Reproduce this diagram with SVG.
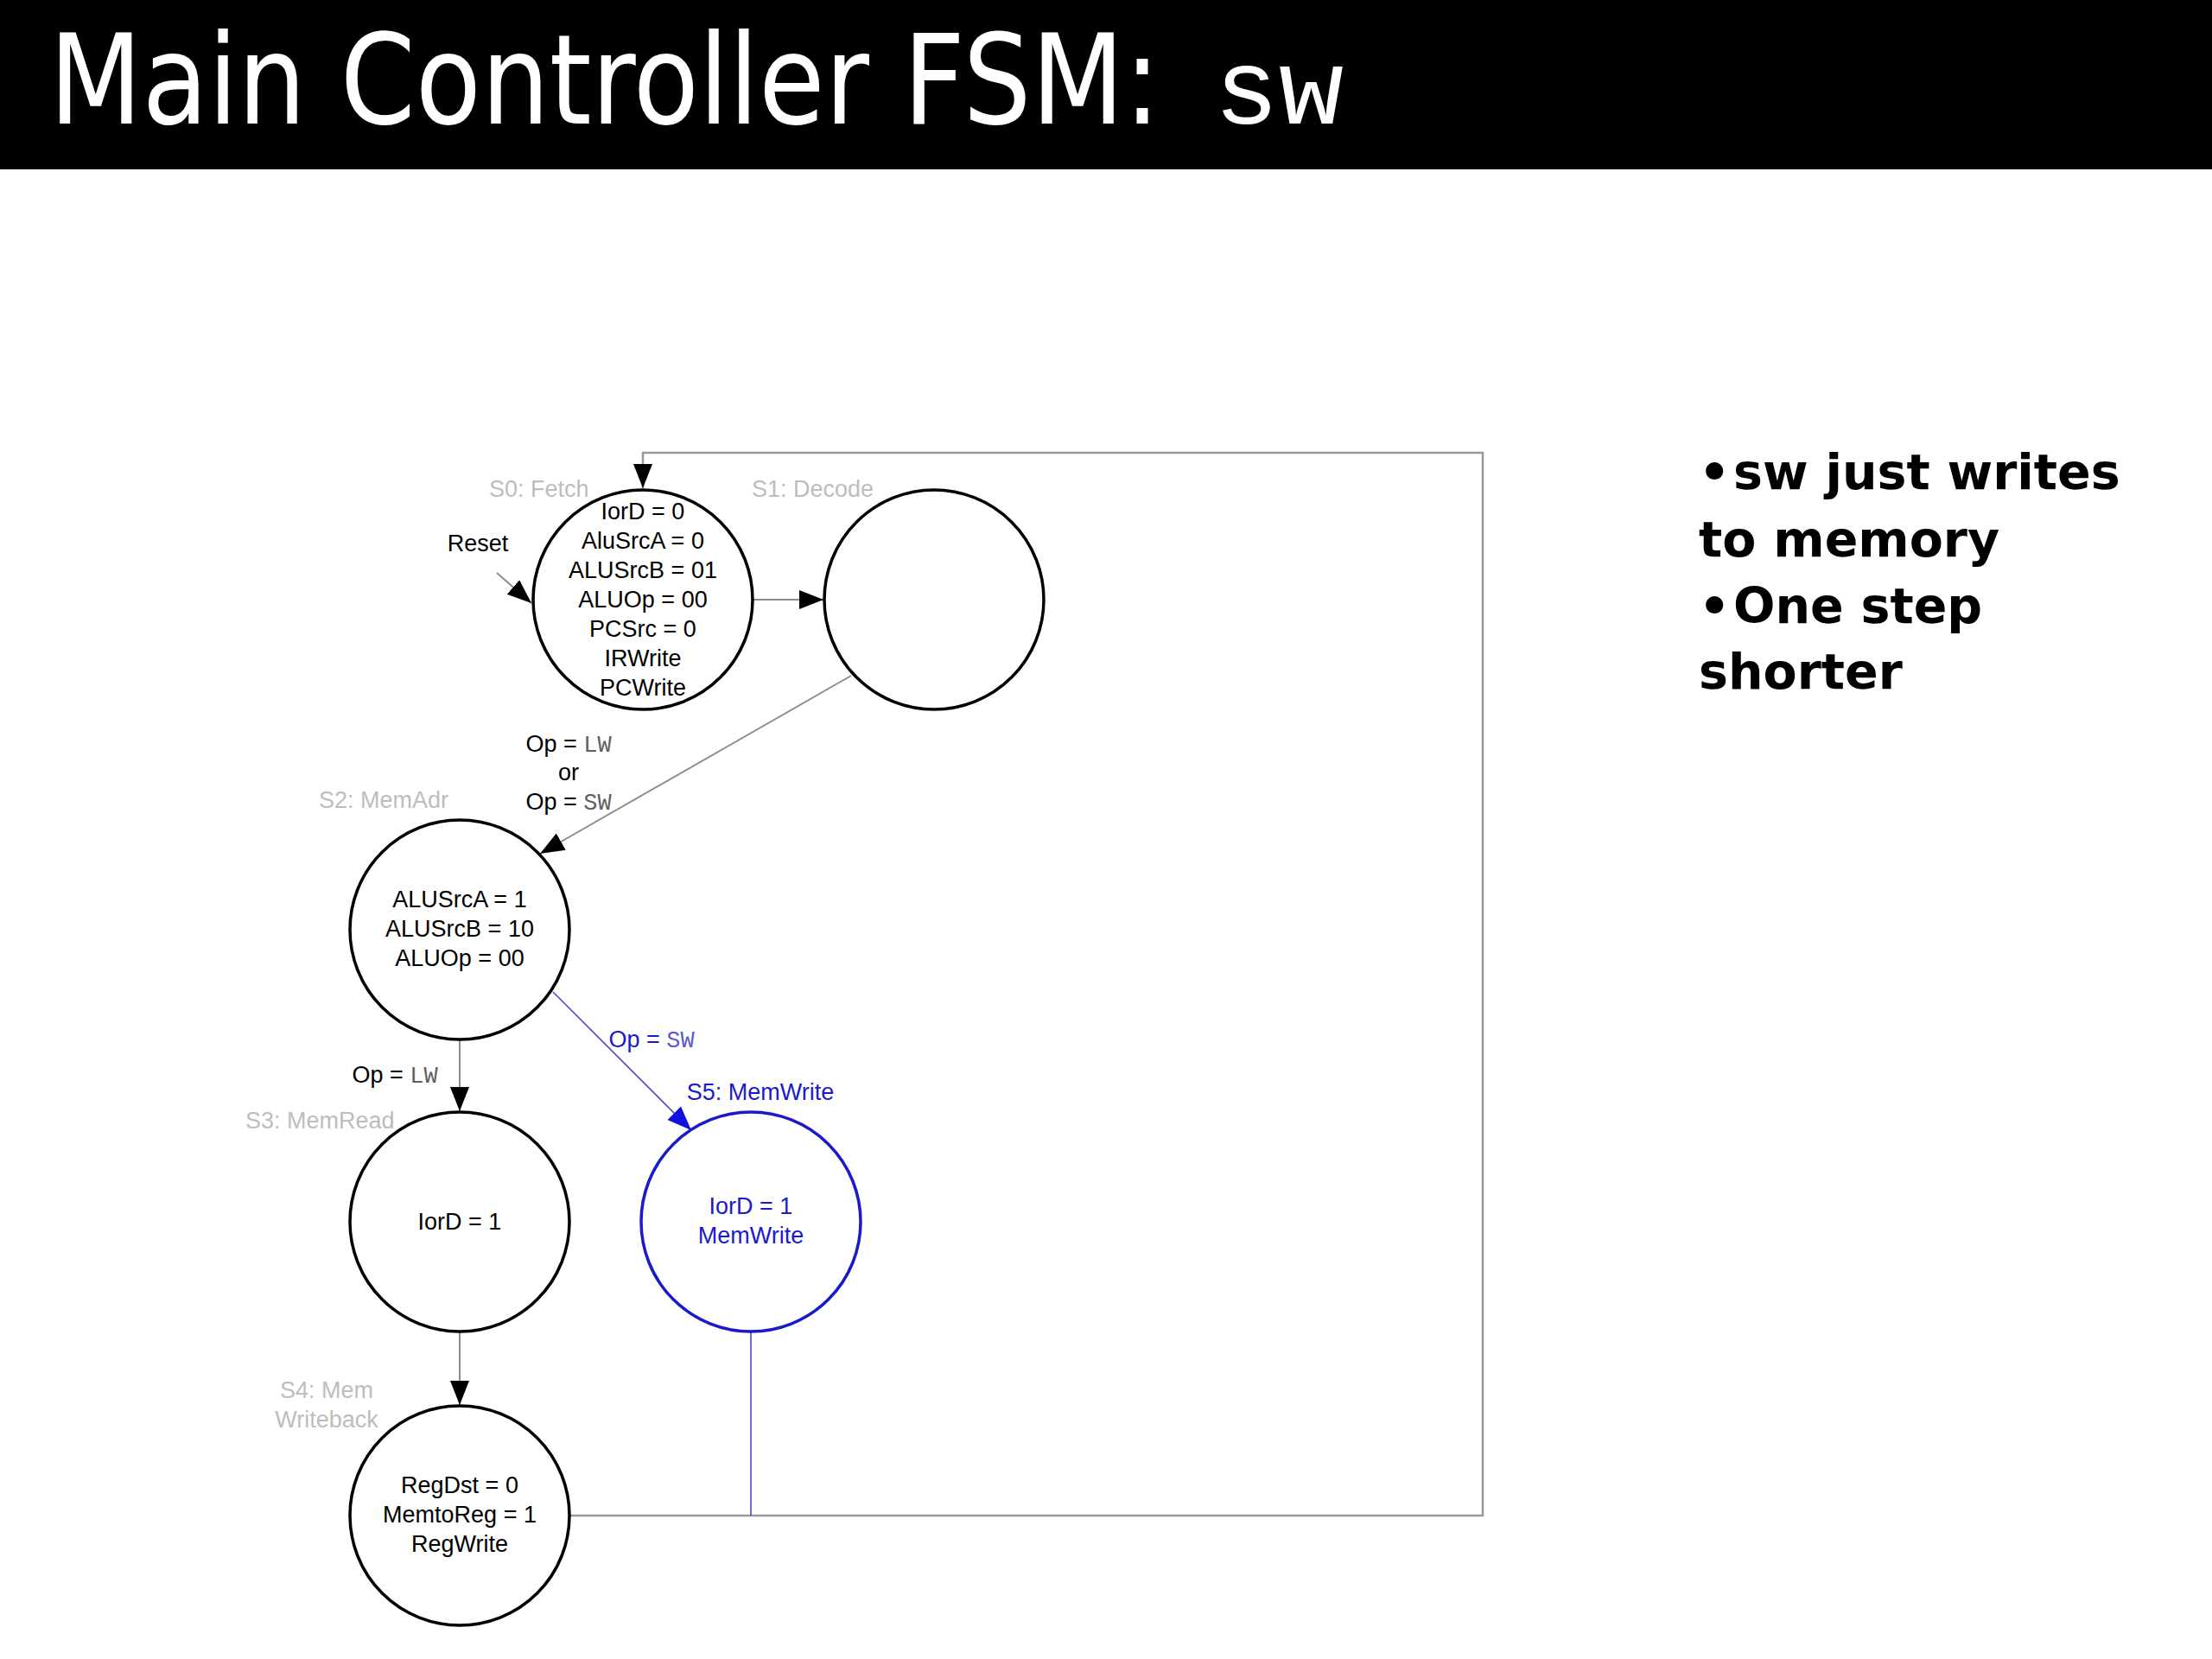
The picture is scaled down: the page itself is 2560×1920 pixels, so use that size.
<svg xmlns="http://www.w3.org/2000/svg" width="2560" height="1920" viewBox="0 0 2560 1920">
<defs>
<style>
.st{fill:#fff;stroke:#000;stroke-width:3.5}
.st5{fill:#fff;stroke:#1a1acc;stroke-width:3.5}
.t{font-family:"Liberation Sans",Arial,sans-serif;font-size:27px;fill:#000;text-anchor:middle}
.tb{font-family:"Liberation Sans",Arial,sans-serif;font-size:27px;fill:#1a1acc;text-anchor:middle}
.lbl{font-family:"Liberation Sans",Arial,sans-serif;font-size:27px;fill:#bdbdbd}
.mono{font-family:"Liberation Mono","Courier New",monospace;fill:#606060}
.monob{font-family:"Liberation Mono","Courier New",monospace;fill:#5a5ad0}
.c{fill:none;stroke:#8c8c8c;stroke-width:2}
.loop{fill:none;stroke:#999;stroke-width:2.5}
.cb{fill:none;stroke:#4848c8;stroke-width:1.6}
.bul{font-family:"DejaVu Sans",Verdana,sans-serif;font-weight:bold;font-size:57px;fill:#000}
</style>
<marker id="ah" markerUnits="userSpaceOnUse" markerWidth="30" markerHeight="24" refX="28" refY="11" orient="auto">
<path d="M0,0 L28,11 L0,22 z" fill="#000"/>
</marker>
<marker id="ahb" markerUnits="userSpaceOnUse" markerWidth="30" markerHeight="24" refX="28" refY="11" orient="auto">
<path d="M0,0 L28,11 L0,22 z" fill="#1010e0"/>
</marker>
</defs>
<rect x="0" y="0" width="2560" height="1920" fill="#fff"/>
<g id="header">
<rect x="0" y="0" width="2560" height="196" fill="#000"/>
<text x="57" y="143" font-family="'DejaVu Sans Condensed','DejaVu Sans',sans-serif" font-size="144" fill="#fff" textLength="1286" lengthAdjust="spacingAndGlyphs">Main Controller FSM:</text>
<text x="1405" y="143" font-family="'Liberation Mono','Courier New',monospace" font-size="125" fill="#fff">sw</text>
</g>
<g id="connectors">
<polyline class="loop" points="658,1754 1716,1754 1716,524 744,524 744,565" marker-end="url(#ah)"/>
<line class="cb" x1="869" y1="1542" x2="869" y2="1754"/>
<line class="c" x1="575" y1="663" x2="615" y2="698" marker-end="url(#ah)"/>
<line class="c" x1="871" y1="694" x2="953" y2="694" marker-end="url(#ah)"/>
<line class="c" x1="985" y1="782" x2="625" y2="988" marker-end="url(#ah)"/>
<line class="c" x1="532" y1="1203" x2="532" y2="1286" marker-end="url(#ah)"/>
<line class="c" x1="532" y1="1542" x2="532" y2="1626" marker-end="url(#ah)"/>
<line class="cb" x1="640" y1="1148" x2="800" y2="1308" marker-end="url(#ahb)"/>
<text class="t" x="553" y="638">Reset</text>
<text class="t" x="658" y="870">Op = <tspan class="mono">LW</tspan></text>
<text class="t" x="658" y="903">or</text>
<text class="t" x="658" y="937">Op = <tspan class="mono">SW</tspan></text>
<text class="t" x="457" y="1253">Op = <tspan class="mono">LW</tspan></text>
<text class="tb" x="754" y="1212">Op = <tspan class="monob">SW</tspan></text>
</g>
<g id="S0">
<circle class="st" cx="744" cy="694" r="127"/>
<text class="lbl" x="566" y="575">S0: Fetch</text>
<text class="t" x="744" y="601">IorD = 0</text>
<text class="t" x="744" y="635">AluSrcA = 0</text>
<text class="t" x="744" y="669">ALUSrcB = 01</text>
<text class="t" x="744" y="703">ALUOp = 00</text>
<text class="t" x="744" y="737">PCSrc = 0</text>
<text class="t" x="744" y="771">IRWrite</text>
<text class="t" x="744" y="805">PCWrite</text>
</g>
<g id="S1">
<circle class="st" cx="1081" cy="694" r="127"/>
<text class="lbl" x="870" y="575">S1: Decode</text>
</g>
<g id="S2">
<circle class="st" cx="532" cy="1076" r="127"/>
<text class="lbl" x="369" y="935">S2: MemAdr</text>
<text class="t" x="532" y="1050">ALUSrcA = 1</text>
<text class="t" x="532" y="1084">ALUSrcB = 10</text>
<text class="t" x="532" y="1118">ALUOp = 00</text>
</g>
<g id="S3">
<circle class="st" cx="532" cy="1414" r="127"/>
<text class="lbl" x="284" y="1306">S3: MemRead</text>
<text class="t" x="532" y="1423">IorD = 1</text>
</g>
<g id="S4">
<circle class="st" cx="532" cy="1754" r="127"/>
<text class="lbl" x="378" y="1618" style="text-anchor:middle">S4: Mem</text>
<text class="lbl" x="378" y="1652" style="text-anchor:middle">Writeback</text>
<text class="t" x="532" y="1728">RegDst = 0</text>
<text class="t" x="532" y="1762">MemtoReg = 1</text>
<text class="t" x="532" y="1796">RegWrite</text>
</g>
<g id="S5">
<circle class="st5" cx="869" cy="1414" r="127"/>
<text class="tb" x="880" y="1273">S5: MemWrite</text>
<text class="tb" x="869" y="1405">IorD = 1</text>
<text class="tb" x="869" y="1439">MemWrite</text>
</g>
<g id="bullets">
<text class="bul" x="1966" y="566">•</text><text class="bul" x="2006" y="566">sw just writes</text>
<text class="bul" x="1966" y="644">to memory</text>
<text class="bul" x="1966" y="721">•</text><text class="bul" x="2006" y="721">One step</text>
<text class="bul" x="1966" y="797">shorter</text>
</g>
</svg>
